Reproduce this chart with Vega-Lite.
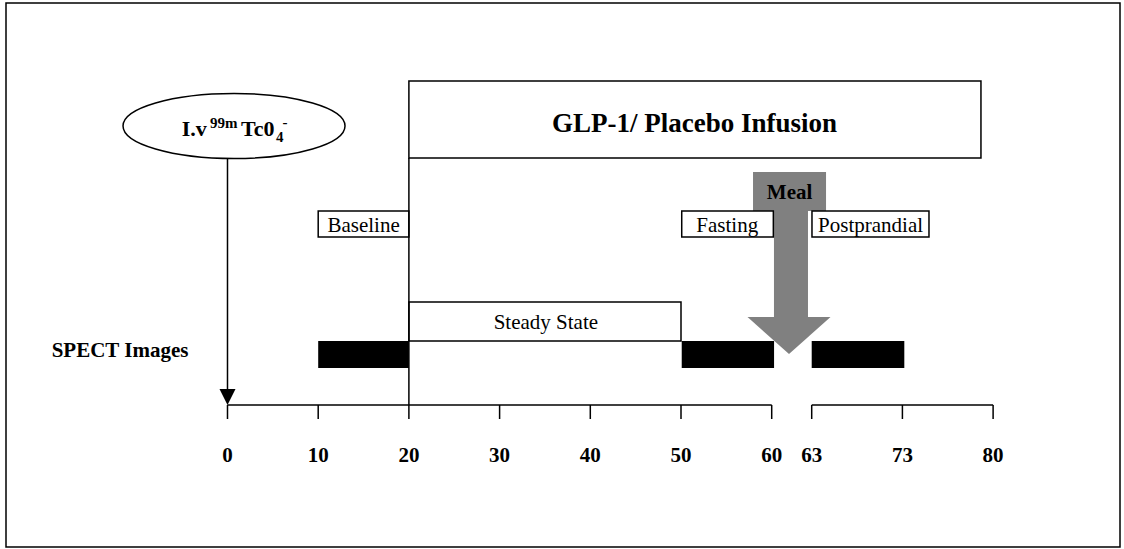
{
  "$schema": "https://vega.github.io/schema/vega-lite/v6.json",
  "width": 1114,
  "height": 544,
  "autosize": {"type": "none"},
  "padding": {"left": 6, "top": 3, "right": 4, "bottom": 2},
  "background": "white",
  "config": {
    "view": {"stroke": "black", "strokeWidth": 1.5},
    "text": {"font": "Liberation Serif"}
  },
  "layer": [
    {
      "data": {"values": [
        {"item": "GLP-1 infusion", "t": 20, "t2": 83.07, "y": 15.2, "y2": 30.6}
      ]},
      "mark": {"type": "rect", "fill": "white", "stroke": "black", "strokeWidth": 1.5},
      "encoding": {
        "x": {"field": "t", "type": "quantitative", "scale": {"domain": [-24.42, 98.4], "nice": false, "zero": false}, "axis": null},
        "x2": {"field": "t2"},
        "y": {"field": "y", "type": "quantitative", "scale": {"domain": [-0.4, 108.4], "reverse": true, "nice": false, "zero": false}, "axis": null},
        "y2": {"field": "y2"}
      }
    },
    {
      "data": {"values": [
        {"part": "meal cap", "t": 57.94, "t2": 65.99, "y": 33.4, "y2": 41.2},
        {"part": "meal shaft", "t": 60.25, "t2": 64.0, "y": 33.4, "y2": 62.4}
      ]},
      "mark": {"type": "rect", "fill": "#808080", "strokeWidth": 0},
      "encoding": {
        "x": {"field": "t", "type": "quantitative", "scale": {"domain": [-24.42, 98.4], "nice": false, "zero": false}, "axis": null},
        "x2": {"field": "t2"},
        "y": {"field": "y", "type": "quantitative", "scale": {"domain": [-0.4, 108.4], "reverse": true, "nice": false, "zero": false}, "axis": null},
        "y2": {"field": "y2"}
      }
    },
    {
      "data": {"values": [
        {"part": "meal head", "t": 61.91, "y": 66.1}
      ]},
      "mark": {"type": "point", "shape": "M -1 -0.446 L 1 -0.446 L 0 0.446 Z", "filled": true, "fill": "#808080", "strokeWidth": 0, "opacity": 1, "size": 6889},
      "encoding": {
        "x": {"field": "t", "type": "quantitative", "scale": {"domain": [-24.42, 98.4], "nice": false, "zero": false}, "axis": null},
        "y": {"field": "y", "type": "quantitative", "scale": {"domain": [-0.4, 108.4], "reverse": true, "nice": false, "zero": false}, "axis": null}
      }
    },
    {
      "data": {"values": [
        {"item": "Baseline", "t": 10, "t2": 20, "y": 41.2, "y2": 46.4},
        {"item": "Fasting", "t": 50.08, "t2": 60.18, "y": 41.2, "y2": 46.4},
        {"item": "Postprandial", "t": 64.44, "t2": 77.34, "y": 41.2, "y2": 46.4},
        {"item": "Steady State", "t": 20, "t2": 50, "y": 59.4, "y2": 67.2}
      ]},
      "mark": {"type": "rect", "fill": "white", "stroke": "black", "strokeWidth": 1.5},
      "encoding": {
        "x": {"field": "t", "type": "quantitative", "scale": {"domain": [-24.42, 98.4], "nice": false, "zero": false}, "axis": null},
        "x2": {"field": "t2"},
        "y": {"field": "y", "type": "quantitative", "scale": {"domain": [-0.4, 108.4], "reverse": true, "nice": false, "zero": false}, "axis": null},
        "y2": {"field": "y2"}
      }
    },
    {
      "data": {"values": [
        {"scan": "Baseline", "t": 10, "t2": 20, "y": 67.2, "y2": 72.6},
        {"scan": "Fasting", "t": 50.08, "t2": 60.26, "y": 67.2, "y2": 72.6},
        {"scan": "Postprandial", "t": 64.41, "t2": 74.62, "y": 67.2, "y2": 72.6}
      ]},
      "mark": {"type": "rect", "fill": "black", "strokeWidth": 0},
      "encoding": {
        "x": {"field": "t", "type": "quantitative", "scale": {"domain": [-24.42, 98.4], "nice": false, "zero": false}, "axis": null},
        "x2": {"field": "t2"},
        "y": {"field": "y", "type": "quantitative", "scale": {"domain": [-0.4, 108.4], "reverse": true, "nice": false, "zero": false}, "axis": null},
        "y2": {"field": "y2"}
      }
    },
    {
      "data": {"values": [
        {"line": "axis 0-60", "t": 0, "t2": 60, "y": 80, "y2": 80},
        {"line": "axis 63-80", "t": 64.41, "t2": 84.41, "y": 80, "y2": 80},
        {"line": "tick 0", "t": 0, "t2": 0, "y": 80, "y2": 82.8},
        {"line": "tick 10", "t": 10, "t2": 10, "y": 80, "y2": 82.8},
        {"line": "tick 20", "t": 20, "t2": 20, "y": 80, "y2": 82.8},
        {"line": "tick 30", "t": 30, "t2": 30, "y": 80, "y2": 82.8},
        {"line": "tick 40", "t": 40, "t2": 40, "y": 80, "y2": 82.8},
        {"line": "tick 50", "t": 50, "t2": 50, "y": 80, "y2": 82.8},
        {"line": "tick 60", "t": 60, "t2": 60, "y": 80, "y2": 82.8},
        {"line": "tick 63", "t": 64.41, "t2": 64.41, "y": 80, "y2": 82.8},
        {"line": "tick 73", "t": 74.41, "t2": 74.41, "y": 80, "y2": 82.8},
        {"line": "tick 80", "t": 84.41, "t2": 84.41, "y": 80, "y2": 82.8},
        {"line": "injection", "t": 0, "t2": 0, "y": 30.6, "y2": 77},
        {"line": "infusion start", "t": 20, "t2": 20, "y": 30.6, "y2": 80}
      ]},
      "mark": {"type": "rule", "stroke": "black", "strokeWidth": 1.5},
      "encoding": {
        "x": {"field": "t", "type": "quantitative", "scale": {"domain": [-24.42, 98.4], "nice": false, "zero": false}, "axis": null},
        "x2": {"field": "t2"},
        "y": {"field": "y", "type": "quantitative", "scale": {"domain": [-0.4, 108.4], "reverse": true, "nice": false, "zero": false}, "axis": null},
        "y2": {"field": "y2"}
      }
    },
    {
      "data": {"values": [
        {"part": "injection arrowhead", "t": 0, "y": 78.4}
      ]},
      "mark": {"type": "point", "shape": "M -1 -1 L 1 -1 L 0 1 Z", "filled": true, "fill": "black", "strokeWidth": 0, "opacity": 1, "size": 256},
      "encoding": {
        "x": {"field": "t", "type": "quantitative", "scale": {"domain": [-24.42, 98.4], "nice": false, "zero": false}, "axis": null},
        "y": {"field": "y", "type": "quantitative", "scale": {"domain": [-0.4, 108.4], "reverse": true, "nice": false, "zero": false}, "axis": null}
      }
    },
    {
      "data": {"values": [
        {"part": "injection ellipse", "t": 0.72, "y": 24.2}
      ]},
      "mark": {"type": "point", "shape": "M -1 0 C -1 -0.162 -0.552 -0.293 0 -0.293 C 0.552 -0.293 1 -0.162 1 0 C 1 0.162 0.552 0.293 0 0.293 C -0.552 0.293 -1 0.162 -1 0 Z", "filled": true, "fill": "white", "stroke": "black", "strokeWidth": 1.5, "opacity": 1, "size": 49284},
      "encoding": {
        "x": {"field": "t", "type": "quantitative", "scale": {"domain": [-24.42, 98.4], "nice": false, "zero": false}, "axis": null},
        "y": {"field": "y", "type": "quantitative", "scale": {"domain": [-0.4, 108.4], "reverse": true, "nice": false, "zero": false}, "axis": null}
      }
    },
    {
      "data": {"values": [
        {"text": "GLP-1/ Placebo Infusion", "t": 51.5, "y": 25.3}
      ]},
      "mark": {"type": "text", "font": "Liberation Serif", "fontWeight": "bold", "fontSize": 27, "align": "center", "baseline": "alphabetic", "color": "black"},
      "encoding": {
        "x": {"field": "t", "type": "quantitative", "scale": {"domain": [-24.42, 98.4], "nice": false, "zero": false}, "axis": null},
        "y": {"field": "y", "type": "quantitative", "scale": {"domain": [-0.4, 108.4], "reverse": true, "nice": false, "zero": false}, "axis": null},
        "text": {"field": "text"}
      }
    },
    {
      "data": {"values": [
        {"text": "I.v", "t": -5.04, "y": 26.2},
        {"text": "Tc0", "t": 1.49, "y": 26.2}
      ]},
      "mark": {"type": "text", "font": "Liberation Serif", "fontWeight": "bold", "fontSize": 22, "align": "left", "baseline": "alphabetic", "color": "black"},
      "encoding": {
        "x": {"field": "t", "type": "quantitative", "scale": {"domain": [-24.42, 98.4], "nice": false, "zero": false}, "axis": null},
        "y": {"field": "y", "type": "quantitative", "scale": {"domain": [-0.4, 108.4], "reverse": true, "nice": false, "zero": false}, "axis": null},
        "text": {"field": "text"}
      }
    },
    {
      "data": {"values": [
        {"text": "99m", "t": -1.93, "y": 24.6},
        {"text": "4", "t": 5.35, "y": 27.4},
        {"text": "-", "t": 6.06, "y": 24.4}
      ]},
      "mark": {"type": "text", "font": "Liberation Serif", "fontWeight": "bold", "fontSize": 15, "align": "left", "baseline": "alphabetic", "color": "black"},
      "encoding": {
        "x": {"field": "t", "type": "quantitative", "scale": {"domain": [-24.42, 98.4], "nice": false, "zero": false}, "axis": null},
        "y": {"field": "y", "type": "quantitative", "scale": {"domain": [-0.4, 108.4], "reverse": true, "nice": false, "zero": false}, "axis": null},
        "text": {"field": "text"}
      }
    },
    {
      "data": {"values": [
        {"text": "Baseline", "t": 15.0, "y": 45.4},
        {"text": "Fasting", "t": 55.1, "y": 45.4},
        {"text": "Postprandial", "t": 70.9, "y": 45.4},
        {"text": "Steady State", "t": 35.1, "y": 64.8}
      ]},
      "mark": {"type": "text", "font": "Liberation Serif", "fontSize": 21, "align": "center", "baseline": "alphabetic", "color": "black"},
      "encoding": {
        "x": {"field": "t", "type": "quantitative", "scale": {"domain": [-24.42, 98.4], "nice": false, "zero": false}, "axis": null},
        "y": {"field": "y", "type": "quantitative", "scale": {"domain": [-0.4, 108.4], "reverse": true, "nice": false, "zero": false}, "axis": null},
        "text": {"field": "text"}
      }
    },
    {
      "data": {"values": [
        {"text": "Meal", "t": 61.97, "y": 38.8},
        {"text": "SPECT Images", "t": -11.85, "y": 70.4}
      ]},
      "mark": {"type": "text", "font": "Liberation Serif", "fontWeight": "bold", "fontSize": 21, "align": "center", "baseline": "alphabetic", "color": "black"},
      "encoding": {
        "x": {"field": "t", "type": "quantitative", "scale": {"domain": [-24.42, 98.4], "nice": false, "zero": false}, "axis": null},
        "y": {"field": "y", "type": "quantitative", "scale": {"domain": [-0.4, 108.4], "reverse": true, "nice": false, "zero": false}, "axis": null},
        "text": {"field": "text"}
      }
    },
    {
      "data": {"values": [
        {"label": "0", "t": 0, "y": 91.3},
        {"label": "10", "t": 10, "y": 91.3},
        {"label": "20", "t": 20, "y": 91.3},
        {"label": "30", "t": 30, "y": 91.3},
        {"label": "40", "t": 40, "y": 91.3},
        {"label": "50", "t": 50, "y": 91.3},
        {"label": "60", "t": 60, "y": 91.3},
        {"label": "63", "t": 64.41, "y": 91.3},
        {"label": "73", "t": 74.41, "y": 91.3},
        {"label": "80", "t": 84.41, "y": 91.3}
      ]},
      "mark": {"type": "text", "font": "Liberation Serif", "fontWeight": "bold", "fontSize": 21, "align": "center", "baseline": "alphabetic", "color": "black"},
      "encoding": {
        "x": {"field": "t", "type": "quantitative", "scale": {"domain": [-24.42, 98.4], "nice": false, "zero": false}, "axis": null},
        "y": {"field": "y", "type": "quantitative", "scale": {"domain": [-0.4, 108.4], "reverse": true, "nice": false, "zero": false}, "axis": null},
        "text": {"field": "label"}
      }
    }
  ]
}
